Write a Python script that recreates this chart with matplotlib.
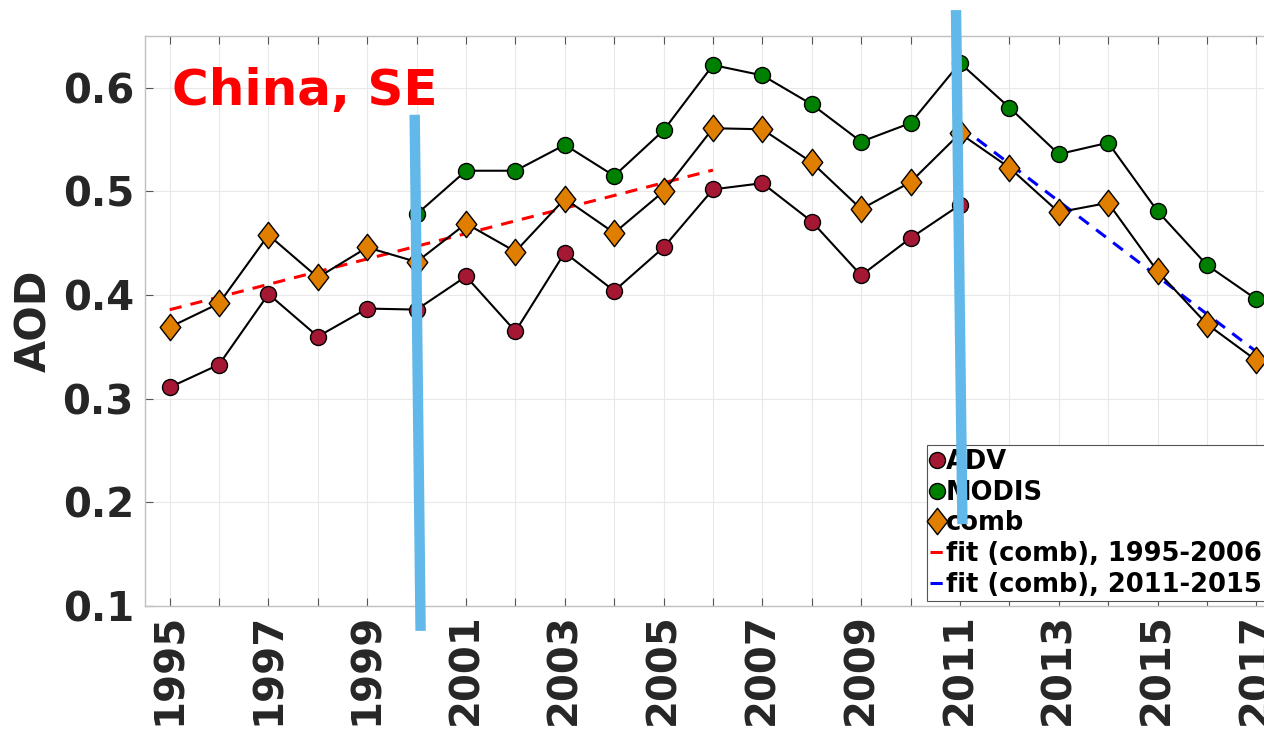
import numpy as np
import matplotlib.pyplot as plt
from matplotlib.path import Path

# yearly mean AOD, south-east China
years = np.arange(1995, 2018)
adv_years = np.arange(1995, 2012)
adv = [0.311, 0.333, 0.401, 0.360, 0.387, 0.386, 0.418, 0.365, 0.441, 0.404,
       0.446, 0.502, 0.508, 0.471, 0.419, 0.455, 0.487]
modis_years = np.arange(2000, 2018)
modis = [0.478, 0.520, 0.520, 0.545, 0.515, 0.559, 0.622, 0.612, 0.584, 0.548,
         0.566, 0.624, 0.581, 0.536, 0.547, 0.481, 0.429, 0.396]
comb = [0.369, 0.392, 0.458, 0.417, 0.446, 0.432, 0.469, 0.442, 0.493, 0.460,
        0.500, 0.561, 0.560, 0.528, 0.483, 0.509, 0.556, 0.523, 0.480, 0.489,
        0.423, 0.372, 0.337]

# periods used for the linear trends on comb
fit1_range = (1995, 2006)
fit2_range = (2011, 2017)

# vertical markers for the period boundaries (x pair, y pair)
marker1_x, marker1_y = [1999.96, 2000.08], [0.574, 0.076]
marker2_x, marker2_y = [2010.92, 2011.05], [0.675, 0.179]

txt = '#262626'
plt.rcParams['font.family'] = 'DejaVu Sans'
plt.rcParams['font.weight'] = 'bold'

fig = plt.figure(figsize=(12.64, 7.33), dpi=100)
ax = fig.add_axes([145 / 1264, 1 - 606 / 733, 1136 / 1264, 570 / 733])

# taller-than-wide diamond like the MATLAB one
diamond = Path([(0, 1), (0.78, 0), (0, -1), (-0.78, 0), (0, 1)],
               [Path.MOVETO, Path.LINETO, Path.LINETO, Path.LINETO, Path.CLOSEPOLY])

ax.plot(adv_years, adv, '-', color='k', lw=1.5, marker='o', ms=11.5,
        mfc='#a51834', mec='k', mew=1.0, label='ADV', zorder=3)
ax.plot(modis_years, modis, '-', color='k', lw=1.5, marker='o', ms=11.5,
        mfc='#008000', mec='k', mew=1.0, label='MODIS', zorder=3)
ax.plot(years, comb, '-', color='k', lw=1.5, marker=diamond, ms=19,
        mfc='#e07e00', mec='k', mew=1.0, label='comb', zorder=3)

comb = np.array(comb)
for (y0, y1), col in [(fit1_range, 'red'), (fit2_range, 'blue')]:
    sel = (years >= y0) & (years <= y1)
    p = np.polyfit(years[sel], comb[sel], 1)
    xs = np.array([y0, y1])
    lab = 'fit (comb), 1995-2006' if col == 'red' else 'fit (comb), 2011-2015'
    ax.plot(xs, np.polyval(p, xs), '--', color=col, lw=2.2, dashes=(4, 3),
            label=lab, zorder=2.5)

ax.set_xlim(1994.5, 2017.5)
ax.set_ylim(0.1, 0.65)
ax.set_xticks(years)
ax.set_xticklabels([str(y) if y % 2 == 1 else '' for y in years],
                   rotation=90, fontsize=29, fontweight='bold', color=txt)
ax.set_yticks([0.1, 0.2, 0.3, 0.4, 0.5, 0.6])
ax.set_yticklabels(['0.1', '0.2', '0.3', '0.4', '0.5', '0.6'],
                   fontsize=29, fontweight='bold', color=txt)
ax.tick_params(axis='both', direction='in', length=6, width=0.8, color='#555555',
               top=True, right=True)
ax.tick_params(axis='x', pad=5)
ax.tick_params(axis='y', pad=8)
ax.grid(True, color='#e8e8e8', lw=0.8)
ax.set_axisbelow(True)
for s in ax.spines.values():
    s.set_color('#c0c0c0')
    s.set_linewidth(1.0)

ax.set_ylabel('AOD', fontsize=30, fontweight='bold', color=txt, labelpad=5)

ax.text(1995.05, 0.583, 'China, SE', color='red', fontsize=36,
        fontweight='bold', va='baseline', ha='left')

leg = ax.legend(loc='lower left', bbox_to_anchor=(0.688, 0.008), borderaxespad=0,
                fontsize=18.5, handlelength=0.5, handletextpad=0.1,
                labelspacing=0.18, borderpad=0.15, fancybox=False,
                framealpha=1, edgecolor='#555555')
leg.get_frame().set_linewidth(0.8)
for t in leg.get_texts():
    t.set_fontweight('bold')

for mx, my in [(marker1_x, marker1_y), (marker2_x, marker2_y)]:
    ax.plot(mx, my, '-', color='#62b8e8', lw=7.5, solid_capstyle='butt',
            clip_on=False, zorder=10)

fig.savefig('out.png', dpi=100)
